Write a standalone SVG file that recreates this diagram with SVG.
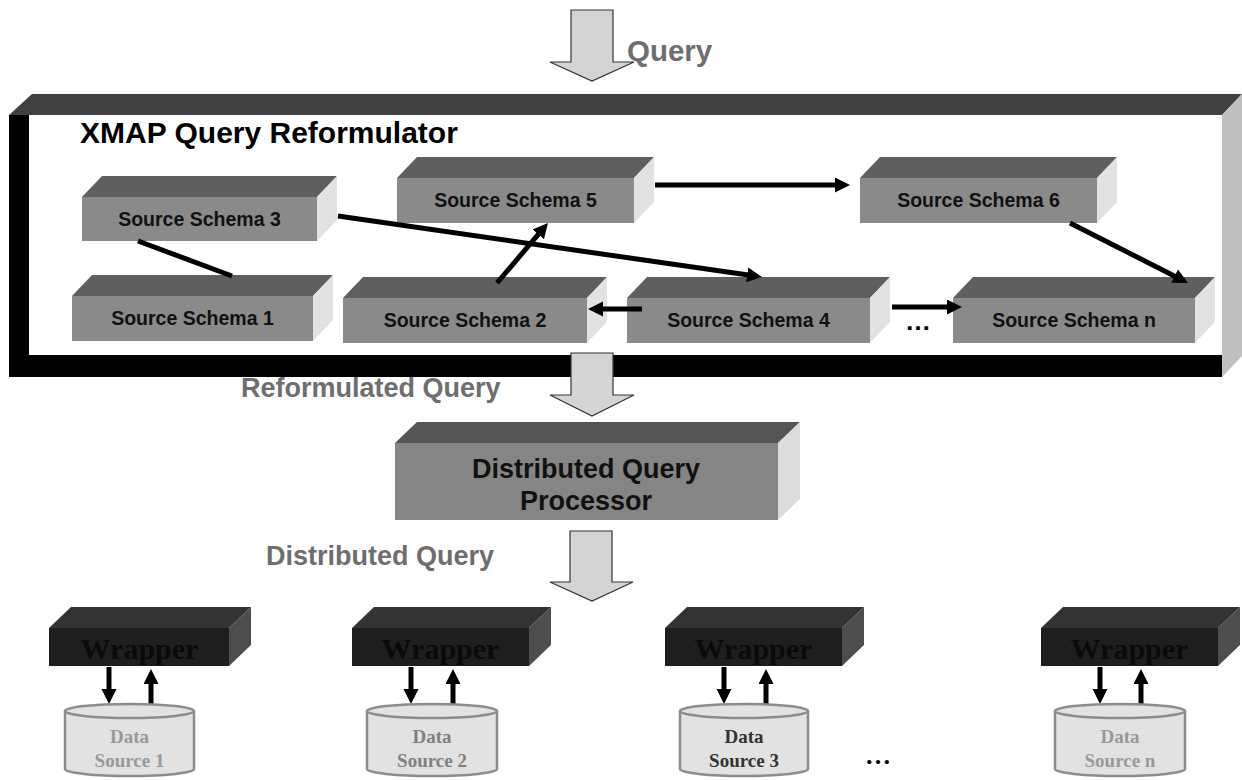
<svg xmlns="http://www.w3.org/2000/svg" width="1242" height="780" viewBox="0 0 1242 780">
<defs>
<style>
.sf{fill:#8a8a8a}.st{fill:#5f5f5f}.ss{fill:#e2e2e2}
.wf{fill:#1e1e1e}.wt{fill:#333333}.ws{fill:#4d4d4d}
.big{fill:#d4d4d4;stroke:#333;stroke-width:1.2}
.lbl{font-family:"Liberation Sans",Arial,sans-serif;font-weight:bold;fill:#6e6e6e}
.sch{font-family:"Liberation Sans",Arial,sans-serif;font-weight:bold;font-size:19.5px;fill:#111;text-anchor:middle}
.wr{font-family:"Liberation Serif","Times New Roman",serif;font-weight:bold;font-size:30px;fill:#0a0a0a;text-anchor:middle}
.ds{font-family:"Liberation Serif","Times New Roman",serif;font-weight:bold;font-size:19px;text-anchor:middle}
.cyl{fill:#e2e2e2;stroke:#8c8c8c;stroke-width:2.5}
.con{stroke:#000;stroke-width:5;fill:none}
.arr{marker-end:url(#ah)}
</style>
<marker id="ah" markerUnits="userSpaceOnUse" markerWidth="16" markerHeight="16" refX="3" refY="7.5" orient="auto">
<path d="M0,0 L15,7.5 L0,15 Z" fill="#000"/>
</marker>
</defs>
<rect width="1242" height="780" fill="#fff"/>

<g id="query-arrow">
<path class="big" d="M571 10 H613 V62 H634 L592 81 L550 62 H571 Z"/>
<text class="lbl" x="627" y="61" font-size="29.5">Query</text>
</g>

<g id="reformulator">
<polygon points="9,115 32,94 1242,94 1222,115" fill="#404040"/>
<polygon points="1222,115 1242,94 1242,356 1222,377" fill="#c0c0c0"/>
<rect x="9" y="115" width="1213" height="262" fill="#fff"/>
<rect x="9" y="115" width="20" height="262" fill="#000"/>
<rect x="9" y="355" width="1213" height="22" fill="#000"/>
<text x="80" y="143" font-family="Liberation Sans,Arial,sans-serif" font-weight="bold" font-size="30" fill="#000">XMAP Query Reformulator</text>
</g>

<g id="schema3">
<polygon class="st" points="82,197 102,176 337,176 317,197"/>
<polygon class="ss" points="317,197 337,176 337,220 317,241"/>
<rect class="sf" x="82" y="197" width="235" height="44"/>
<text class="sch" x="199.5" y="226">Source Schema 3</text>
</g>
<g id="schema1">
<polygon class="st" points="72,296 92,275 333,275 313,296"/>
<polygon class="ss" points="313,296 333,275 333,320 313,341"/>
<rect class="sf" x="72" y="296" width="241" height="45"/>
<text class="sch" x="192.5" y="325">Source Schema 1</text>
</g>
<g id="schema5">
<polygon class="st" points="397,178 417,157 654,157 634,178"/>
<polygon class="ss" points="634,178 654,157 654,202 634,223"/>
<rect class="sf" x="397" y="178" width="237" height="45"/>
<text class="sch" x="515.5" y="207">Source Schema 5</text>
</g>
<g id="schema6">
<polygon class="st" points="860,178 880,157 1117,157 1097,178"/>
<polygon class="ss" points="1097,178 1117,157 1117,202 1097,223"/>
<rect class="sf" x="860" y="178" width="237" height="45"/>
<text class="sch" x="978.5" y="207">Source Schema 6</text>
</g>
<g id="schema2">
<polygon class="st" points="343,298 363,277 607,277 587,298"/>
<polygon class="ss" points="587,298 607,277 607,322 587,343"/>
<rect class="sf" x="343" y="298" width="244" height="45"/>
<text class="sch" x="465" y="327">Source Schema 2</text>
</g>
<g id="schema4">
<polygon class="st" points="627,298 647,277 890,277 870,298"/>
<polygon class="ss" points="870,298 890,277 890,322 870,343"/>
<rect class="sf" x="627" y="298" width="243" height="45"/>
<text class="sch" x="748.5" y="327">Source Schema 4</text>
</g>
<g id="schemaN">
<polygon class="st" points="953,298 973,277 1215,277 1195,298"/>
<polygon class="ss" points="1195,298 1215,277 1215,322 1195,343"/>
<rect class="sf" x="953" y="298" width="242" height="45"/>
<text class="sch" x="1074" y="327">Source Schema n</text>
</g>

<g id="connectors">
<line class="con" x1="138" y1="241" x2="232" y2="276"/>
<line class="con arr" x1="338" y1="216" x2="750.1" y2="275.3"/>
<line class="con arr" x1="497" y1="283" x2="540.2" y2="232.1"/>
<line class="con arr" x1="642" y1="309" x2="600" y2="309"/>
<line class="con arr" x1="655" y1="185" x2="838" y2="185"/>
<line class="con arr" x1="1070" y1="223" x2="1177.3" y2="277.5"/>
<line class="con arr" x1="892" y1="307" x2="950" y2="307"/>
<line class="con arr" x1="109" y1="667" x2="109" y2="692"/>
<line class="con arr" x1="151" y1="705" x2="151" y2="681"/>
<line class="con arr" x1="411" y1="667" x2="411" y2="692"/>
<line class="con arr" x1="453" y1="705" x2="453" y2="681"/>
<line class="con arr" x1="724" y1="667" x2="724" y2="692"/>
<line class="con arr" x1="766" y1="705" x2="766" y2="681"/>
<line class="con arr" x1="1100" y1="667" x2="1100" y2="692"/>
<line class="con arr" x1="1141" y1="705" x2="1141" y2="681"/>
</g>
<text x="918" y="330" font-family="Liberation Sans,Arial,sans-serif" font-weight="bold" font-size="26" text-anchor="middle" fill="#000">…</text>

<g id="reformulated-arrow">
<path class="big" d="M571 353 H613 V395 H634 L592 416 L550 395 H571 Z"/>
<text class="lbl" x="241" y="397" font-size="27">Reformulated Query</text>
</g>

<g id="dqp">
<polygon points="395,443 417,422 800,422 778,443" fill="#555555"/>
<polygon points="778,443 800,422 800,499 778,520" fill="#dcdcdc"/>
<rect x="395" y="443" width="383" height="77" fill="#858585"/>
<text x="586" y="478" font-family="Liberation Sans,Arial,sans-serif" font-weight="bold" font-size="27" text-anchor="middle" fill="#111">Distributed Query</text>
<text x="586" y="510" font-family="Liberation Sans,Arial,sans-serif" font-weight="bold" font-size="27" text-anchor="middle" fill="#111">Processor</text>
</g>

<g id="distributed-arrow">
<path class="big" d="M570 531 H612 V582 H633 L592 601 L550 582 H570 Z"/>
<text class="lbl" x="266" y="565" font-size="27">Distributed Query</text>
</g>

<g id="wrapper1">
<polygon class="wt" points="49,628 71,607 251,607 229,628"/>
<polygon class="ws" points="229,628 251,607 251,645 229,666"/>
<rect class="wf" x="49" y="628" width="180" height="38"/>
<text class="wr" x="139.5" y="659">Wrapper</text>
</g>
<g id="wrapper2">
<polygon class="wt" points="352,628 374,607 551,607 529,628"/>
<polygon class="ws" points="529,628 551,607 551,645 529,666"/>
<rect class="wf" x="352" y="628" width="177" height="38"/>
<text class="wr" x="440.5" y="659">Wrapper</text>
</g>
<g id="wrapper3">
<polygon class="wt" points="665,628 687,607 864,607 842,628"/>
<polygon class="ws" points="842,628 864,607 864,645 842,666"/>
<rect class="wf" x="665" y="628" width="177" height="38"/>
<text class="wr" x="753.5" y="659">Wrapper</text>
</g>
<g id="wrapperN">
<polygon class="wt" points="1041,628 1063,607 1240,607 1218,628"/>
<polygon class="ws" points="1218,628 1240,607 1240,645 1218,666"/>
<rect class="wf" x="1041" y="628" width="177" height="38"/>
<text class="wr" x="1129.5" y="659">Wrapper</text>
</g>

<g id="ds1">
<path class="cyl" d="M65 711 V769 A64.5 7 0 0 0 194 769 V711"/>
<ellipse class="cyl" cx="129.5" cy="711" rx="64.5" ry="7"/>
<text class="ds" x="129.5" y="743" fill="#999">Data</text>
<text class="ds" x="129.5" y="767" fill="#999">Source 1</text>
</g>
<g id="ds2">
<path class="cyl" d="M367 711 V769 A65 7 0 0 0 497 769 V711"/>
<ellipse class="cyl" cx="432" cy="711" rx="65" ry="7"/>
<text class="ds" x="432" y="743" fill="#808080">Data</text>
<text class="ds" x="432" y="767" fill="#808080">Source 2</text>
</g>
<g id="ds3">
<path class="cyl" d="M680 711 V769 A64 7 0 0 0 808 769 V711"/>
<ellipse class="cyl" cx="744" cy="711" rx="64" ry="7"/>
<text class="ds" x="744" y="743" fill="#333">Data</text>
<text class="ds" x="744" y="767" fill="#333">Source 3</text>
</g>
<g id="dsN">
<path class="cyl" d="M1055 711 V769 A65 7 0 0 0 1185 769 V711"/>
<ellipse class="cyl" cx="1120" cy="711" rx="65" ry="7"/>
<text class="ds" x="1120" y="743" fill="#999">Data</text>
<text class="ds" x="1120" y="767" fill="#999">Source n</text>
</g>
<text x="878" y="764" font-family="Liberation Serif,Times New Roman,serif" font-weight="bold" font-size="26" text-anchor="middle" fill="#000">…</text>
</svg>
